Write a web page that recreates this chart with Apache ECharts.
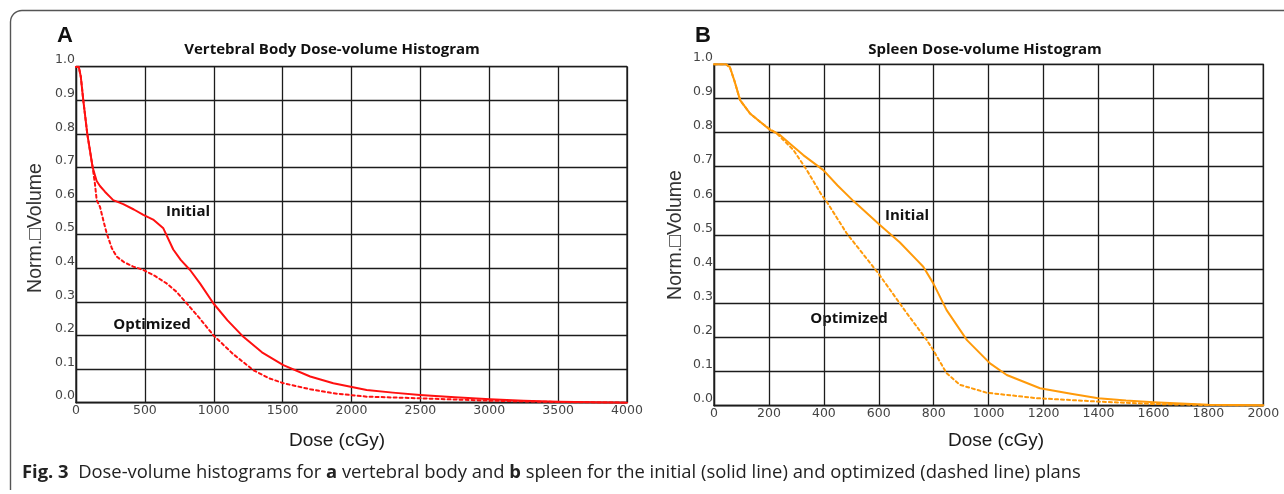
<!DOCTYPE html>
<html>
<head>
<meta charset="utf-8">
<script src="https://cdn.jsdelivr.net/npm/echarts@6/dist/echarts.min.js"></script>
<style>
html,body{margin:0;padding:0;background:#fff;}
#c{width:1284px;height:494px;}
</style>
</head>
<body>
<div id="c"></div>
<script>
// ---- Data ----
const xTicksA = [0, 500, 1000, 1500, 2000, 2500, 3000, 3500, 4000];
const xTicksB = [0, 200, 400, 600, 800, 1000, 1200, 1400, 1600, 1800, 2000];
const yTicks = [0.0, 0.1, 0.2, 0.3, 0.4, 0.5, 0.6, 0.7, 0.8, 0.9, 1.0];

// Panel A: vertebral body
const doseA_init = [0, 20, 35, 53, 82, 121, 150, 174, 210, 270, 343, 420, 489, 560, 634, 706, 760, 828, 900, 997, 1100, 1215, 1350, 1505, 1700, 1868, 2110, 2300, 2497, 2750, 3005, 3250, 3500, 3750, 4000];
const volA_init  = [1.0, 1.0, 0.97, 0.9, 0.8, 0.7, 0.66, 0.645, 0.628, 0.603, 0.591, 0.575, 0.559, 0.545, 0.519, 0.456, 0.425, 0.395, 0.355, 0.296, 0.245, 0.196, 0.15, 0.112, 0.078, 0.058, 0.038, 0.03, 0.023, 0.016, 0.010, 0.006, 0.003, 0.001, 0.0];
const doseA_opt  = [0, 20, 35, 53, 82, 121, 138, 150, 174, 200, 223, 260, 295, 350, 416, 489, 570, 658, 730, 803, 900, 997, 1140, 1287, 1400, 1505, 1700, 1868, 2110, 2500, 3000, 3500, 4000];
const volA_opt   = [1.0, 1.0, 0.97, 0.9, 0.8, 0.7, 0.65, 0.603, 0.583, 0.54, 0.504, 0.46, 0.435, 0.418, 0.405, 0.395, 0.378, 0.355, 0.33, 0.296, 0.25, 0.201, 0.145, 0.097, 0.073, 0.058, 0.04, 0.028, 0.018, 0.013, 0.006, 0.002, 0.0];

// Panel B: spleen
const doseB_init = [0, 44, 58, 75, 95, 131, 170, 204, 240, 280, 325, 398, 450, 507, 604, 677, 738, 762, 798, 847, 921, 1005, 1066, 1187, 1300, 1399, 1500, 1600, 1800, 2000];
const volB_init  = [1.0, 1.0, 0.992, 0.95, 0.895, 0.856, 0.83, 0.808, 0.793, 0.765, 0.734, 0.69, 0.645, 0.6, 0.529, 0.478, 0.427, 0.407, 0.359, 0.28, 0.192, 0.124, 0.09, 0.051, 0.035, 0.022, 0.015, 0.01, 0.003, 0.001];
const doseB_opt  = [0, 44, 58, 75, 95, 131, 170, 204, 228, 289, 338, 392, 410, 483, 598, 702, 775, 798, 847, 896, 993, 1175, 1399, 1600, 1800, 2000];
const volB_opt   = [1.0, 1.0, 0.99, 0.95, 0.895, 0.856, 0.83, 0.81, 0.798, 0.749, 0.69, 0.617, 0.598, 0.505, 0.388, 0.271, 0.192, 0.163, 0.095, 0.061, 0.038, 0.022, 0.012, 0.005, 0.002, 0.0];

const titleA = 'Vertebral Body Dose-volume Histogram';
const titleB = 'Spleen Dose-volume Histogram';
const yName = 'Norm.\u25A1Volume';
const xName = 'Dose (cGy)';

const pairs = (xs, ys) => xs.map((x, i) => [x, ys[i]]);

const chart = echarts.init(document.getElementById('c'), null, {renderer: 'canvas', width: 1284, height: 494});

const gridLine = {color: '#1c1c1c', width: 1.3};
function xAxis(gi, ticks) {
  return {
    type: 'value', gridIndex: gi, min: ticks[0], max: ticks[ticks.length - 1],
    interval: ticks[1] - ticks[0],
    axisLine: {show: true, lineStyle: gridLine},
    axisTick: {show: false},
    splitLine: {show: true, lineStyle: gridLine},
    axisLabel: {color: '#444', fontFamily: 'DejaVu Sans', fontSize: 12.5, margin: 2,
      formatter: v => String(v)}
  };
}
function yAxis(gi) {
  return {
    type: 'value', gridIndex: gi, min: yTicks[0], max: yTicks[yTicks.length - 1], interval: 0.1,
    axisLine: {show: true, lineStyle: gridLine},
    axisTick: {show: false},
    splitLine: {show: true, lineStyle: gridLine},
    axisLabel: {color: '#444', fontFamily: 'DejaVu Sans', fontSize: 12.5, margin: 1,
      verticalAlign: 'bottom', formatter: v => v.toFixed(1)}
  };
}
function line(gi, data, color, dashed) {
  return {
    type: 'line', xAxisIndex: gi, yAxisIndex: gi, data: data,
    showSymbol: false, smooth: false, silent: true,
    lineStyle: {color: color, width: 2, type: dashed ? [3, 3] : 'solid', cap: 'round', join: 'round'}
  };
}

const txt = (x, y, s, style, extra) => Object.assign({
  type: 'text', x: x, y: y, silent: true,
  style: Object.assign({text: s, fill: '#111', align: 'center', verticalAlign: 'middle'}, style)
}, extra || {});

const red = '#ff1010';
const orange = '#ff9a0a';
const frame = {stroke: '#555', lineWidth: 1.4, fill: null};

const option = {
  backgroundColor: '#fff',
  animation: false,
  grid: [
    {left: 76, top: 66.7, width: 551, height: 336, show: true, borderColor: '#1c1c1c', borderWidth: 1.3, backgroundColor: 'transparent'},
    {left: 714, top: 64.3, width: 549.3, height: 341.4, show: true, borderColor: '#1c1c1c', borderWidth: 1.3, backgroundColor: 'transparent'}
  ],
  xAxis: [xAxis(0, xTicksA), xAxis(1, xTicksB)],
  yAxis: [yAxis(0), yAxis(1)],
  series: [
    line(0, pairs(doseA_init, volA_init), red, false),
    line(0, pairs(doseA_opt, volA_opt), red, true),
    line(1, pairs(doseB_init, volB_init), orange, false),
    line(1, pairs(doseB_opt, volB_opt), orange, true)
  ],
  graphic: [
    {type: 'polyline', silent: true, shape: {points: [[10.5, 490], [10.5, 22]]}, style: frame},
    {type: 'arc', silent: true, shape: {cx: 22, cy: 22, r: 11.5, startAngle: Math.PI, endAngle: Math.PI * 1.5, clockwise: true}, style: frame},
    {type: 'polyline', silent: true, shape: {points: [[22, 10.5], [1290, 10.5]]}, style: frame},
    txt(65, 36, 'A', {font: 'bold 22px "Liberation Sans"'}),
    txt(703, 36, 'B', {font: 'bold 22px "Liberation Sans"'}),
    txt(332, 50, titleA, {font: 'bold 15px "Open Sans"'}),
    txt(985, 50, titleB, {font: 'bold 15px "Open Sans"'}),
    txt(36, 228, yName, {font: '19.5px "Liberation Sans"', fill: '#333'}, {rotation: Math.PI / 2}),
    txt(676, 235, yName, {font: '19.5px "Liberation Sans"', fill: '#333'}, {rotation: Math.PI / 2}),
    txt(337, 441, xName, {font: '19px "Liberation Sans"', fill: '#1a1a1a'}),
    txt(996, 441, xName, {font: '19px "Liberation Sans"', fill: '#1a1a1a'}),
    txt(188, 212, 'Initial', {font: 'bold 15px "Open Sans"'}),
    txt(152, 325, 'Optimized', {font: 'bold 15px "Open Sans"'}),
    txt(907, 216, 'Initial', {font: 'bold 15px "Open Sans"'}),
    txt(849, 319, 'Optimized', {font: 'bold 15px "Open Sans"'}),
    {type: 'text', x: 22, y: 473, silent: true,
      style: {
        text: '{b|Fig. 3}  Dose-volume histograms for {b|a} vertebral body and {b|b} spleen for the initial (solid line) and optimized (dashed line) plans',
        font: '18.4px "Open Sans"', fill: '#222', verticalAlign: 'middle', align: 'left',
        rich: {b: {font: 'bold 18.4px "Open Sans"', fill: '#222'}}
      }}
  ]
};
chart.setOption(option);
</script>
</body>
</html>
